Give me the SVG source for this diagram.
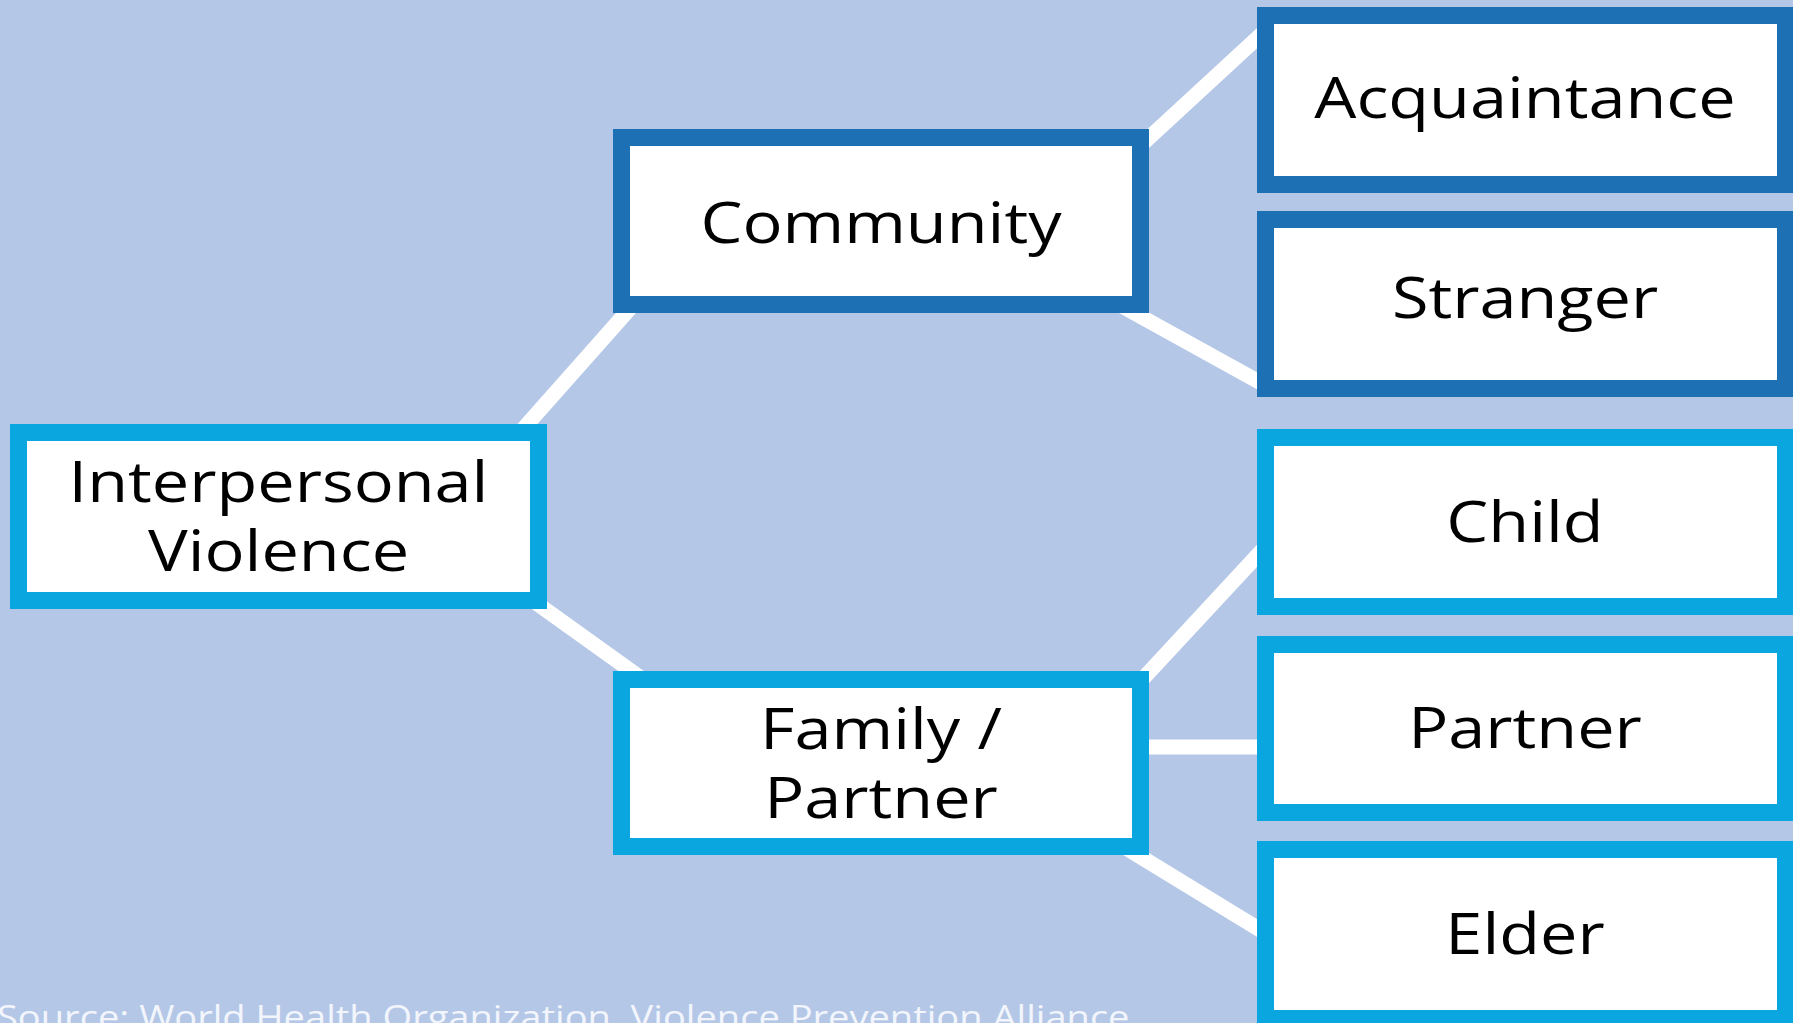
<svg xmlns="http://www.w3.org/2000/svg" width="1793" height="1023" viewBox="0 0 1793 1023">
<style>
.bg{fill:#B4C7E7}
.box{fill:#FFFFFF;stroke-width:17}
.dark{stroke:#1E70B5}
.light{stroke:#0AA6DF}
.lbl{font-family:"Open Sans","Noto Sans","DejaVu Sans",sans-serif;font-size:56px;fill:#000000;text-anchor:middle}
.conn{stroke:#FFFFFF;stroke-width:15;fill:none}
.src{font-family:"Open Sans","Noto Sans","DejaVu Sans",sans-serif;font-size:32px;fill:#F2F5FB}
</style>
<rect class="bg" x="0" y="0" width="1793" height="1023"/>
<g id="connectors">
<line class="conn" x1="500" y1="455" x2="680" y2="252"/>
<line class="conn" x1="500" y1="577" x2="680" y2="706"/>
<line class="conn" x1="1100" y1="183" x2="1280" y2="17"/>
<line class="conn" x1="1100" y1="294" x2="1270" y2="388"/>
<line class="conn" x1="1100" y1="725" x2="1280" y2="531"/>
<line class="conn" x1="1100" y1="747" x2="1280" y2="747"/>
<line class="conn" x1="1100" y1="832" x2="1280" y2="942"/>
</g>
<g id="interpersonal">
<rect class="box light" x="18.5" y="432.5" width="520" height="168"/>
<text class="lbl" transform="translate(278.5,502) scale(1.19,1)"><tspan x="0" y="0">Interpersonal</tspan><tspan x="0" y="69">Violence</tspan></text>
</g>
<g id="community">
<rect class="box dark" x="621.5" y="137.5" width="519" height="167"/>
<text class="lbl" transform="translate(881,243) scale(1.19,1)">Community</text>
</g>
<g id="family">
<rect class="box light" x="621.5" y="679.5" width="519" height="167"/>
<text class="lbl" transform="translate(881,749) scale(1.19,1)"><tspan x="0" y="0">Family /</tspan><tspan x="0" y="69">Partner</tspan></text>
</g>
<g id="acquaintance">
<rect class="box dark" x="1265.5" y="15.5" width="520" height="169"/>
<text class="lbl" transform="translate(1525,118) scale(1.19,1)">Acquaintance</text>
</g>
<g id="stranger">
<rect class="box dark" x="1265.5" y="219.5" width="520" height="169"/>
<text class="lbl" transform="translate(1525,318) scale(1.19,1)">Stranger</text>
</g>
<g id="child">
<rect class="box light" x="1265.5" y="437.5" width="520" height="169"/>
<text class="lbl" transform="translate(1525,542) scale(1.19,1)">Child</text>
</g>
<g id="partner">
<rect class="box light" x="1265.5" y="644.5" width="520" height="168"/>
<text class="lbl" transform="translate(1525,748) scale(1.19,1)">Partner</text>
</g>
<g id="elder">
<rect class="box light" x="1265.5" y="849.5" width="520" height="169"/>
<text class="lbl" transform="translate(1525,954) scale(1.19,1)">Elder</text>
</g>
<text class="src" transform="translate(-3,1029) scale(1.19,1)">Source: World Health Organization, Violence Prevention Alliance</text>
</svg>
